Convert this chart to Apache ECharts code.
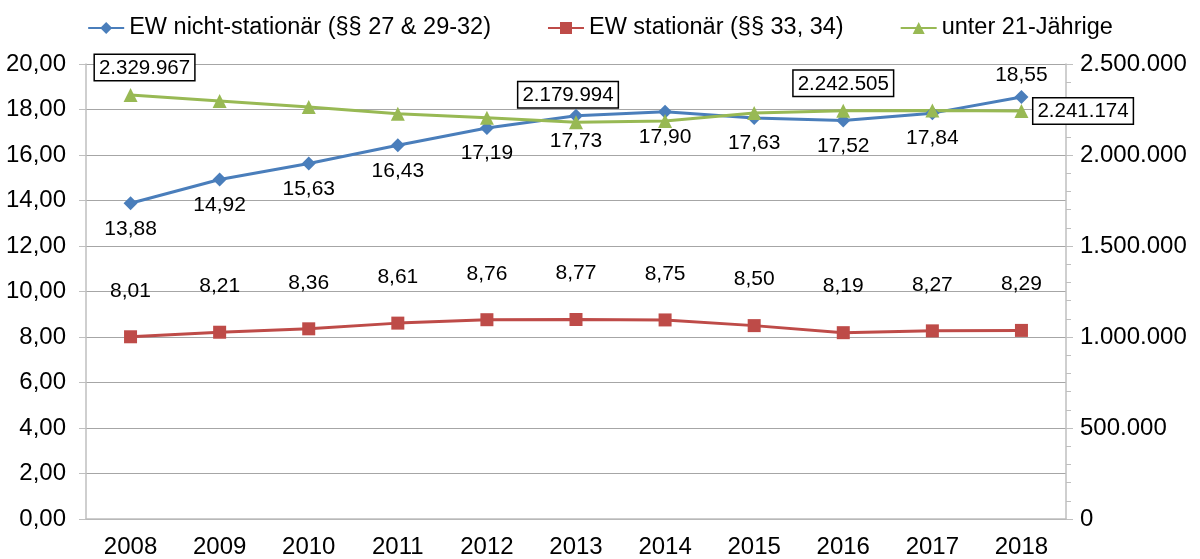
<!DOCTYPE html>
<html>
<head>
<meta charset="utf-8">
<script src="https://cdn.jsdelivr.net/npm/echarts@6/dist/echarts.min.js"></script>
<style>
  html, body { margin: 0; padding: 0; background: #fff; }
  #chart { width: 1200px; height: 559px; }
</style>
</head>
<body>
<div id="chart"></div>
<script>
const years = ["2008", "2009", "2010", "2011", "2012", "2013", "2014", "2015", "2016", "2017", "2018"];
const nichtStationaer = [13.88, 14.92, 15.63, 16.43, 17.19, 17.73, 17.90, 17.63, 17.52, 17.84, 18.55];
const stationaer = [8.01, 8.21, 8.36, 8.61, 8.76, 8.77, 8.75, 8.50, 8.19, 8.27, 8.29];
const unter21 = [2329967, 2297000, 2264000, 2226000, 2204000, 2179994, 2187000, 2231000, 2242505, 2245000, 2241174];
// which green points carry a boxed label
const boxedYears = ["2008", "2013", "2016", "2018"];

const font = "'Liberation Sans', Arial, sans-serif";

function komma(v) {
  return v.toFixed(2).replace(".", ",");
}
function tausend(v) {
  return String(Math.round(v)).replace(/\B(?=(\d{3})+(?!\d))/g, ".");
}

let myChart = echarts.init(document.getElementById("chart"));

const blueData = nichtStationaer.map(function (v, i) {
  if (i === years.length - 1) {
    return { value: v, label: { position: "top", distance: 4 } };
  }
  return { value: v };
});

const greenData = unter21.map(function (v, i) {
  const y = years[i];
  if (boxedYears.indexOf(y) < 0) return { value: v, label: { show: false } };
  let lbl = { show: true, position: "top", distance: 8 };
  if (y === "2008") lbl.offset = [14, 0];
  if (y === "2013") lbl.offset = [-8, 0];
  if (y === "2018") { lbl.position = "right"; lbl.distance = 5; }
  return { value: v, label: lbl };
});

myChart.setOption({
  animation: false,
  textStyle: { fontFamily: font },
  legend: {
    top: 11,
    left: "center",
    itemGap: 56,
    itemWidth: 36,
    itemHeight: 15,
    textStyle: { fontSize: 23.5, color: "#000", fontFamily: font },
    data: ["EW nicht-stationär (§§ 27 & 29-32)", "EW stationär (§§ 33, 34)", "unter 21-Jährige"],
  },
  grid: {
    left: 86,
    right: 134,
    top: 64,
    bottom: 39,
  },
  xAxis: {
    type: "category",
    data: years,
    boundaryGap: true,
    axisLine: { lineStyle: { color: "#bfbfbf", width: 1.5 } },
    axisTick: { show: false },
    axisLabel: { fontSize: 24, color: "#000", margin: 16, fontFamily: font },
  },
  yAxis: [
    {
      type: "value",
      min: 0,
      max: 20,
      interval: 2,
      axisLine: { show: true, lineStyle: { color: "#bfbfbf", width: 1.5 } },
      axisTick: { show: true, length: 7, lineStyle: { color: "#bfbfbf" } },
      splitLine: { lineStyle: { color: "#a6a6a6", width: 1 } },
      axisLabel: {
        fontSize: 24,
        color: "#000",
        margin: 20,
        fontFamily: font,
        formatter: function (v) { return komma(v); },
      },
    },
    {
      type: "value",
      min: 0,
      max: 2500000,
      interval: 500000,
      axisLine: { show: true, lineStyle: { color: "#bfbfbf", width: 1.5 } },
      axisTick: { show: true, length: 7, lineStyle: { color: "#bfbfbf" } },
      minorTick: { show: true, splitNumber: 5, length: 5, lineStyle: { color: "#bfbfbf" } },
      splitLine: { show: false },
      axisLabel: {
        fontSize: 24,
        color: "#000",
        margin: 14,
        fontFamily: font,
        formatter: function (v) { return tausend(v); },
      },
    },
  ],
  series: [
    {
      name: "EW nicht-stationär (§§ 27 & 29-32)",
      type: "line",
      yAxisIndex: 0,
      symbol: "diamond",
      symbolSize: 14,
      itemStyle: { color: "#4a7ebb" },
      lineStyle: { color: "#4a7ebb", width: 3 },
      label: {
        show: true,
        position: "bottom",
        distance: 8,
        fontSize: 21,
        color: "#000",
        fontFamily: font,
        formatter: function (p) { return komma(p.value); },
      },
      data: blueData,
    },
    {
      name: "EW stationär (§§ 33, 34)",
      type: "line",
      yAxisIndex: 0,
      symbol: "rect",
      symbolSize: 13,
      itemStyle: { color: "#be4b48" },
      lineStyle: { color: "#be4b48", width: 3 },
      label: {
        show: true,
        position: "top",
        distance: 29,
        fontSize: 21,
        color: "#000",
        fontFamily: font,
        formatter: function (p) { return komma(p.value); },
      },
      data: stationaer,
    },
    {
      name: "unter 21-Jährige",
      type: "line",
      yAxisIndex: 1,
      symbol: "triangle",
      symbolSize: 14,
      itemStyle: { color: "#98b954" },
      lineStyle: { color: "#98b954", width: 3 },
      label: {
        fontSize: 20.5,
        color: "#000",
        fontFamily: font,
        backgroundColor: "#fff",
        borderColor: "#000",
        borderWidth: 1.5,
        padding: [3, 4, 1, 4],
        formatter: function (p) { return tausend(p.value); },
      },
      data: greenData,
    },
  ],
});
</script>
</body>
</html>
